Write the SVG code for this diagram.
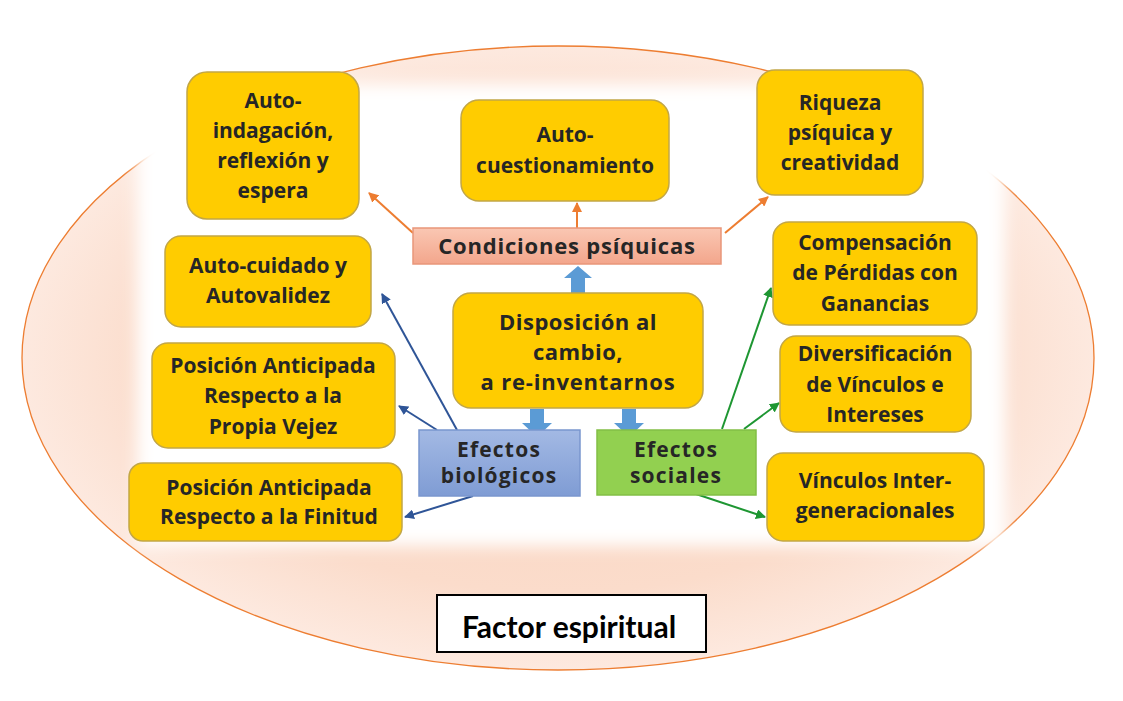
<svg xmlns="http://www.w3.org/2000/svg" width="1123" height="701" viewBox="0 0 1123 701">
<defs>
  <radialGradient id="peach" cx="0.5" cy="0.5" r="0.5">
    <stop offset="0" stop-color="#F9D3BE"/>
    <stop offset="0.75" stop-color="#FBDCCB"/>
    <stop offset="1" stop-color="#FDE9DF"/>
  </radialGradient>
  <linearGradient id="pinkG" x1="0" y1="0" x2="0" y2="1">
    <stop offset="0" stop-color="#FAC7B3"/>
    <stop offset="1" stop-color="#F3A68C"/>
  </linearGradient>
  <linearGradient id="blueG" x1="0" y1="0" x2="0" y2="1">
    <stop offset="0" stop-color="#A3B9E4"/>
    <stop offset="1" stop-color="#7F9CD4"/>
  </linearGradient>
  <filter id="soft" x="-10%" y="-10%" width="120%" height="120%">
    <feGaussianBlur stdDeviation="8"/>
  </filter>
  <marker id="mO" viewBox="0 0 10 10" refX="9" refY="5" markerWidth="5" markerHeight="5" orient="auto">
    <path d="M0,0 L10,5 L0,10 z" fill="#ED7D31"/>
  </marker>
  <marker id="mB" viewBox="0 0 10 10" refX="9" refY="5" markerWidth="5" markerHeight="5" orient="auto">
    <path d="M0,0 L10,5 L0,10 z" fill="#2F5597"/>
  </marker>
  <marker id="mG" viewBox="0 0 10 10" refX="9" refY="5" markerWidth="5" markerHeight="5" orient="auto">
    <path d="M0,0 L10,5 L0,10 z" fill="#1E9632"/>
  </marker>
  <style>
    .y { fill:#FFCC00; stroke:#C2A646; stroke-width:1.5; }
    .t { font-family:"Open Sans","Liberation Sans",sans-serif; font-weight:700; font-size:21px; fill:#262626; text-anchor:middle; }
    .g { font-family:"Open Sans","Liberation Sans",sans-serif; font-weight:700; font-size:21px; fill:#262626; text-anchor:middle; letter-spacing:1.2px; }
    .o { stroke:#ED7D31; stroke-width:2; fill:none; marker-end:url(#mO); }
    .b { stroke:#2F5597; stroke-width:2; fill:none; marker-end:url(#mB); }
    .gr { stroke:#1E9632; stroke-width:2; fill:none; marker-end:url(#mG); }
    .blk { fill:#5B9BD5; }
  </style>
</defs>

<rect width="1123" height="701" fill="#FFFFFF"/>

<g id="background">
  <ellipse cx="558" cy="358" rx="536" ry="312" fill="url(#peach)" stroke="#ED7D31" stroke-width="1.3"/>
  <rect x="137" y="84" width="868" height="462" fill="#FFFFFF" filter="url(#soft)"/>
</g>

<g id="connectors">
  <line class="o" x1="413" y1="233" x2="369" y2="193"/>
  <line class="o" x1="577" y1="228" x2="577" y2="203"/>
  <line class="o" x1="725" y1="233" x2="768" y2="197"/>
  <line class="b" x1="457" y1="430" x2="382" y2="294"/>
  <line class="b" x1="437" y1="430" x2="399" y2="406"/>
  <line class="b" x1="473" y1="496" x2="405" y2="517"/>
  <line class="gr" x1="722" y1="429" x2="771" y2="288"/>
  <line class="gr" x1="744" y1="429" x2="779" y2="403"/>
  <line class="gr" x1="693" y1="493" x2="765" y2="517"/>
  <path class="blk" d="M571,297 L571,278 L564,278 L578,266 L592,278 L585,278 L585,297 Z"/>
  <path class="blk" d="M530,409 L530,423 L522,423 L537,437 L552,423 L544,423 L544,409 Z"/>
  <path class="blk" d="M622,409 L622,423 L614,423 L629,437 L644,423 L636,423 L636,409 Z"/>
</g>

<g id="n-autoindagacion">
  <rect class="y" x="187" y="72" width="172" height="147" rx="20"/>
  <text class="t" x="273" y="108">Auto-</text>
  <text class="t" x="273" y="138">indagación,</text>
  <text class="t" x="273" y="168">reflexión y</text>
  <text class="t" x="273" y="198">espera</text>
</g>

<g id="n-autocuestionamiento">
  <rect class="y" x="461" y="100" width="208" height="101" rx="18"/>
  <text class="t" x="565" y="142">Auto-</text>
  <text class="t" x="565" y="173">cuestionamiento</text>
</g>

<g id="n-riqueza">
  <rect class="y" x="757" y="70" width="166" height="125" rx="18"/>
  <text class="t" x="840" y="110">Riqueza</text>
  <text class="t" x="840" y="140">psíquica y</text>
  <text class="t" x="840" y="170">creatividad</text>
</g>

<g id="n-condiciones">
  <rect x="413" y="228" width="308" height="36" fill="url(#pinkG)" stroke="#E9967A" stroke-width="1.5"/>
  <text class="t" x="567" y="254" style="font-size:22px;letter-spacing:0.8px">Condiciones psíquicas</text>
</g>

<g id="n-autocuidado">
  <rect class="y" x="165" y="236" width="206" height="91" rx="16"/>
  <text class="t" x="268" y="273">Auto-cuidado y</text>
  <text class="t" x="268" y="303">Autovalidez</text>
</g>

<g id="n-disposicion">
  <rect class="y" x="453" y="293" width="250" height="115" rx="18"/>
  <text class="t" x="578" y="330" style="font-size:22px;letter-spacing:0.5px">Disposición al</text>
  <text class="t" x="578" y="360" style="font-size:22px;letter-spacing:0.5px">cambio,</text>
  <text class="t" x="578" y="390" style="font-size:22px;letter-spacing:0.8px">a re-inventarnos</text>
</g>

<g id="n-compensacion">
  <rect class="y" x="773" y="222" width="204" height="103" rx="16"/>
  <text class="t" x="875" y="250">Compensación</text>
  <text class="t" x="875" y="280">de Pérdidas con</text>
  <text class="t" x="875" y="311">Ganancias</text>
</g>

<g id="n-vejez">
  <rect class="y" x="152" y="343" width="243" height="105" rx="16"/>
  <text class="t" x="273" y="373">Posición Anticipada</text>
  <text class="t" x="273" y="403">Respecto a la</text>
  <text class="t" x="273" y="434">Propia Vejez</text>
</g>

<g id="n-diversificacion">
  <rect class="y" x="780" y="336" width="191" height="96" rx="16"/>
  <text class="t" x="875" y="361">Diversificación</text>
  <text class="t" x="875" y="392">de Vínculos e</text>
  <text class="t" x="875" y="422">Intereses</text>
</g>

<g id="n-biologicos">
  <rect x="419" y="430" width="161" height="66" fill="url(#blueG)" stroke="#7A96CE" stroke-width="1.5"/>
  <text class="g" x="499" y="457">Efectos</text>
  <text class="g" x="499" y="483">biológicos</text>
</g>

<g id="n-sociales">
  <rect x="597" y="430" width="159" height="65" fill="#92D050" stroke="#82BF45" stroke-width="1.5"/>
  <text class="g" x="676" y="457">Efectos</text>
  <text class="g" x="676" y="483">sociales</text>
</g>

<g id="n-finitud">
  <rect class="y" x="129" y="463" width="273" height="78" rx="14"/>
  <text class="t" x="269" y="495">Posición Anticipada</text>
  <text class="t" x="269" y="524">Respecto a la Finitud</text>
</g>

<g id="n-vinculos">
  <rect class="y" x="767" y="453" width="217" height="88" rx="16"/>
  <text class="t" x="875" y="488">Vínculos Inter-</text>
  <text class="t" x="875" y="518">generacionales</text>
</g>

<g id="n-factor">
  <rect x="437" y="595" width="269" height="57" fill="#FFFFFF" stroke="#000000" stroke-width="2"/>
  <text x="569" y="638" style="font-family:Lato,'Liberation Sans',sans-serif;font-weight:700;font-size:30px;fill:#000;text-anchor:middle">Factor espiritual</text>
</g>
</svg>
